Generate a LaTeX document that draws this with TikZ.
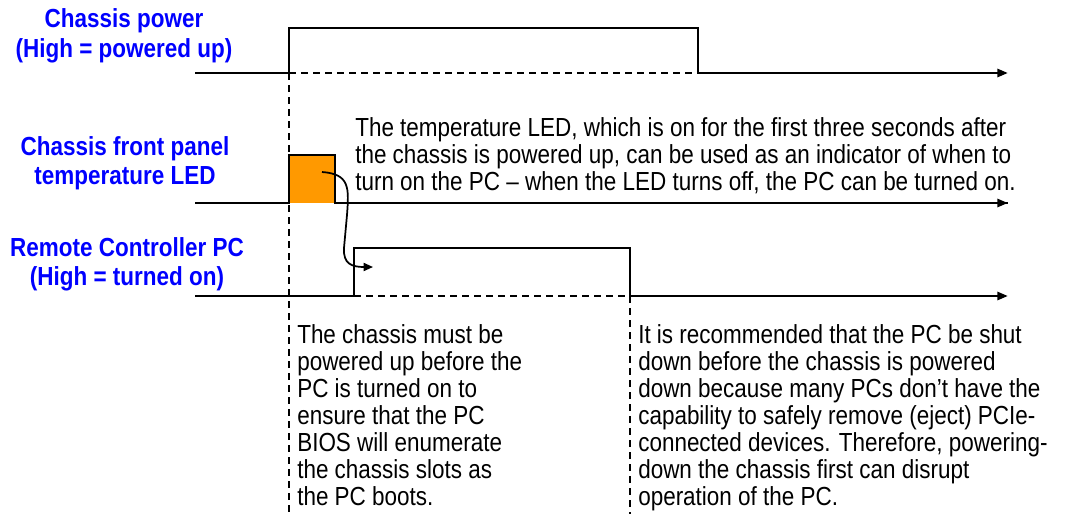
\documentclass[tikz,border=0pt]{standalone}
\usepackage{fontspec}
\setmainfont[FakeStretch=0.86]{Liberation Sans}
\usepackage{tikz}
\usetikzlibrary{arrows.meta, positioning}

\definecolor{ledorange}{RGB}{255,153,0}
\definecolor{labelblue}{RGB}{0,0,255}

\begin{document}
\begin{tikzpicture}[
    x=0.75pt, y=-0.75pt,
    signal/.style={line width=2.1pt, line join=miter},
    axis/.style={line width=2.1pt, -{Triangle[length=8pt, width=6pt]}},
    guide/.style={line width=1pt, dash pattern=on 5.2pt off 3.8pt},
    siglabel/.style={
        font=\fontsize{19.6}{21.5}\selectfont\bfseries,
        text=labelblue, align=center, inner sep=0pt
    },
    note/.style={
        font=\fontsize{19.6}{20.3}\selectfont,
        align=left, anchor=north west, inner sep=0pt
    },
]
\useasboundingbox (0,0) rectangle (1066,514);

% signal labels
\node[siglabel, font=\fontsize{19.6}{22.8}\selectfont\bfseries]
                (powerlbl) at (124,36) {Chassis power\\(High = powered up)};
\node[siglabel] (ledlbl)   at (125,163) {Chassis front panel\\temperature LED};
\node[siglabel] (pclbl)    at (127,264) {Remote Controller PC\\(High = turned on)};

% chassis power
\coordinate (pwrstart) at (195,73);
\coordinate (pwrup)    at (289,73);
\coordinate (pwrdown)  at (698,73);
\coordinate (pwrend)   at (1008,73);
\draw[signal] (pwrstart) -- (pwrup) -- (289,28) -- (698,28) -- (pwrdown);
\draw[axis] (pwrdown) -- (pwrend);
\draw[guide] (pwrup) -- (pwrdown);

% temperature LED
\fill[ledorange] (289,155) rectangle (335,203);
\coordinate (ledstart) at (195,203);
\coordinate (ledend)   at (1008,203);
\draw[signal] (ledstart) -- (289,203) -- (289,155) -- (335,155) -- (335,203) -- (ledend);
\draw[axis] (335,203) -- (ledend);

% remote PC
\coordinate (pcstart) at (195,296);
\coordinate (pcup)    at (354,296);
\coordinate (pcdown)  at (630,296);
\coordinate (pcend)   at (1008,296);
\draw[signal] (pcstart) -- (pcup) -- (354,248) -- (630,248) -- (pcdown);
\draw[axis] (pcdown) -- (pcend);
\draw[guide] (pcup) -- (pcdown);

% guides down to the notes
\draw[guide] (pwrup) -- (289,514);
\draw[guide] (pcdown) -- (630,514);

% LED off -> PC on
\coordinate (ledoff) at (322,172);
\coordinate (pcon)   at (373,267);
\draw[line width=1.3pt, -{Triangle[length=7pt, width=6pt]}]
    (ledoff) .. controls (350,174) and (349,188) .. (347,215)
    -- (344,248) .. controls (343,264) and (352,267) .. (pcon);

% notes
\node[note] (lednote) at (355,117)
    {The temperature LED, which is on for the first three seconds after\\
     the chassis is powered up, can be used as an indicator of when to\\
     turn on the PC -- when the LED turns off, the PC can be turned on.};
\node[note] (pcnote) at (297,324)
    {The chassis must be\\powered up before the\\PC is turned on to\\
     ensure that the PC\\BIOS will enumerate\\the chassis slots as\\the PC boots.};
\node[note] (offnote) at (638,324)
    {It is recommended that the PC be shut\\
     down before the chassis is powered\\
     down because many PCs don't have the\\
     capability to safely remove (eject) PCIe-\\
     connected devices. Therefore, powering-\\
     down the chassis first can disrupt\\
     operation of the PC.};

\end{tikzpicture}
\end{document}
